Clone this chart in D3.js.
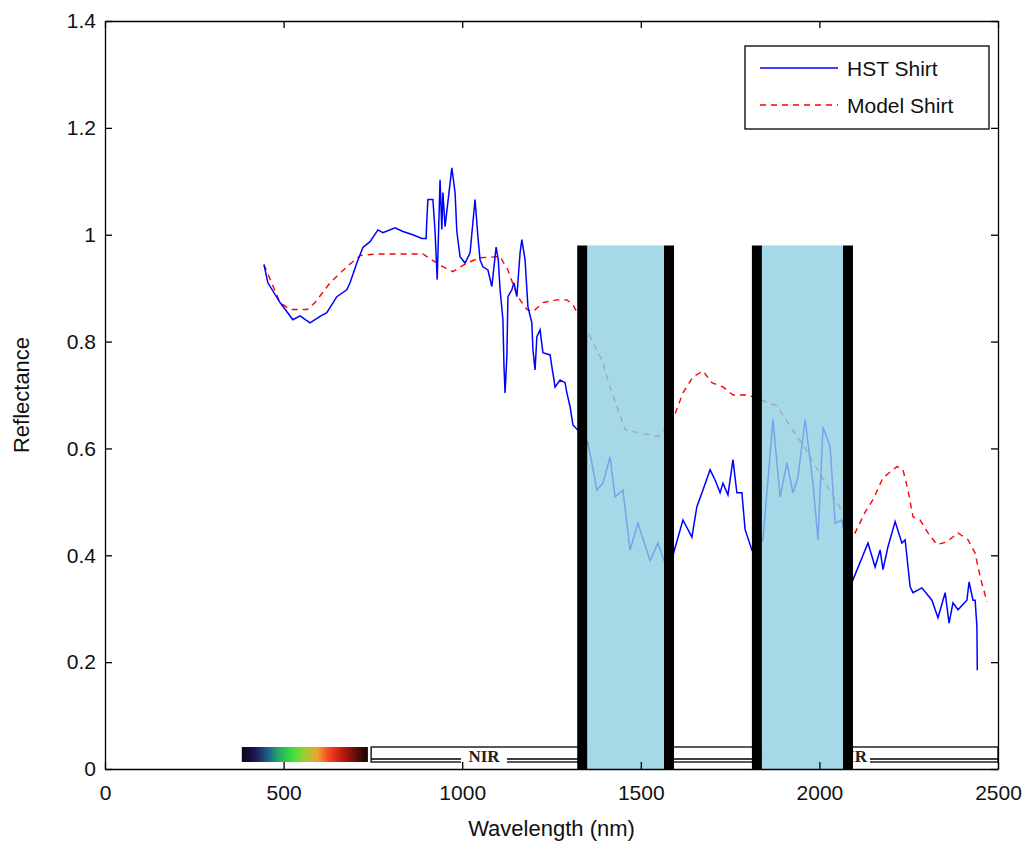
<!DOCTYPE html>
<html>
<head>
<meta charset="utf-8">
<script src="https://cdn.jsdelivr.net/npm/d3@7"></script>
<style>
  body { margin: 0; background: #fff; }
  text { font-family: "Liberation Sans", Arial, sans-serif; }
</style>
</head>
<body>
<svg id="chart" width="1027" height="846"></svg>
<script>
(function() {

    // ---- data ----
    var xTicks = [0, 500, 1000, 1500, 2000, 2500];
    var yTicks = [0, 0.2, 0.4, 0.6, 0.8, 1, 1.2, 1.4];
    var yTickLabels = ["0", "0.2", "0.4", "0.6", "0.8", "1", "1.2", "1.4"];

    var seriesNames = ["HST Shirt", "Model Shirt"];

    // HST Shirt (blue, solid)
    var hstWl = [445, 456, 490, 526, 546, 574, 602, 621, 649, 677, 686, 705, 722, 742, 764, 778, 812, 834, 862, 887,
        899, 901, 904, 918, 924, 930, 938, 943, 946, 952, 971, 980, 985, 994, 1008, 1022, 1036, 1044, 1050, 1058,
        1072, 1083, 1095, 1101, 1106, 1114, 1117, 1120, 1125, 1128, 1139, 1145, 1153, 1162, 1167, 1176, 1184, 1195, 1198, 1204,
        1209, 1218, 1226, 1246, 1251, 1260, 1274, 1288, 1293, 1302, 1310, 1330, 1352, 1363, 1377, 1394, 1414, 1428, 1450, 1470,
        1492, 1526, 1548, 1565, 1580, 1590, 1618, 1643, 1657, 1674, 1694, 1708, 1722, 1730, 1744, 1758, 1769, 1783, 1792, 1811,
        1842, 1870, 1890, 1909, 1926, 1940, 1960, 1982, 1996, 2010, 2030, 2044, 2063, 2080, 2094, 2136, 2156, 2170, 2178, 2192,
        2212, 2231, 2240, 2254, 2262, 2287, 2315, 2332, 2352, 2363, 2374, 2388, 2413, 2419, 2430, 2436, 2441, 2442];
    var hstRefl = [0.944, 0.91, 0.873, 0.841, 0.848, 0.835, 0.847, 0.854, 0.884, 0.897, 0.91, 0.947, 0.976, 0.987, 1.009, 1.004, 1.013, 1.006, 1.0, 0.993,
        0.993, 1.028, 1.066, 1.066, 1.006, 0.916, 1.103, 1.01, 1.079, 1.015, 1.125, 1.079, 1.006, 0.959, 0.947, 0.966, 1.066, 0.996, 0.953, 0.94,
        0.934, 0.903, 0.977, 0.953, 0.897, 0.841, 0.753, 0.704, 0.771, 0.884, 0.897, 0.91, 0.884, 0.966, 0.991, 0.953, 0.865, 0.835, 0.785, 0.747,
        0.809, 0.822, 0.779, 0.775, 0.753, 0.715, 0.728, 0.723, 0.704, 0.678, 0.644, 0.63, 0.61, 0.573, 0.522, 0.535, 0.584, 0.509, 0.522, 0.41,
        0.46, 0.39, 0.423, 0.39, 0.38, 0.4, 0.466, 0.434, 0.491, 0.522, 0.56, 0.541, 0.517, 0.535, 0.513, 0.579, 0.517, 0.517, 0.448, 0.41,
        0.429, 0.654, 0.509, 0.573, 0.517, 0.547, 0.654, 0.535, 0.429, 0.64, 0.603, 0.46, 0.466, 0.4, 0.354, 0.423, 0.378, 0.41, 0.373, 0.416,
        0.463, 0.423, 0.429, 0.341, 0.33, 0.339, 0.316, 0.283, 0.33, 0.273, 0.311, 0.298, 0.316, 0.35, 0.316, 0.316, 0.266, 0.185];

    // Model Shirt (red, dashed)
    var modelWl = [445, 490, 518, 566, 588, 630, 677, 714, 761, 890, 915, 946, 974, 1013, 1050, 1106, 1128, 1148, 1162, 1181,
        1198, 1226, 1265, 1293, 1310, 1358, 1391, 1414, 1456, 1548, 1590, 1618, 1646, 1674, 1699, 1730, 1758, 1800, 1880, 1960,
        2030, 2100, 2128, 2150, 2178, 2217, 2234, 2248, 2262, 2282, 2304, 2329, 2357, 2388, 2416, 2436, 2450, 2469];
    var modelRefl = [0.944, 0.873, 0.86, 0.86, 0.873, 0.91, 0.94, 0.961, 0.964, 0.964, 0.953, 0.94, 0.931, 0.947, 0.957, 0.959, 0.934, 0.897, 0.878, 0.86,
        0.856, 0.873, 0.878, 0.878, 0.869, 0.809, 0.766, 0.715, 0.635, 0.622, 0.654, 0.704, 0.734, 0.745, 0.723, 0.715, 0.7, 0.7, 0.68, 0.6,
        0.52, 0.442, 0.481, 0.504, 0.545, 0.566, 0.56, 0.522, 0.472, 0.466, 0.442, 0.42, 0.425, 0.442, 0.429, 0.404, 0.36, 0.313];

    // water absorption bands (nm) and the 0.98 top
    var bandStarts = [1350, 1839];
    var bandEnds = [1565, 2066];
    var bandTop = 0.98;

    // spectrum strip and region labels
    var visStart = 383, visEnd = 736, nirStart = 745;
    var spectrumColors = ["#0b0418", "#1c1450", "#1d5a88", "#24b060", "#3ce040", "#9ad030", "#f0a030", "#f04020", "#c01810", "#601008", "#180404"];

    var svg = d3.select("#chart");
    var margin = { left: 105, right: 29, top: 21, bottom: 77 };
    var W = 1027, H = 846;

    var x = d3.scaleLinear().domain([0, 2500]).range([margin.left, W - margin.right]);
    var y = d3.scaleLinear().domain([0, 1.4]).range([H - margin.bottom, margin.top]);

    var hst = hstWl.map(function(d, i) { return { wl: d, r: hstRefl[i] }; });
    var model = modelWl.map(function(d, i) { return { wl: d, r: modelRefl[i] }; });

    var defs = svg.append("defs");
    var grad = defs.append("linearGradient").attr("id", "spec");
    spectrumColors.forEach(function(c, i) {
        grad.append("stop").attr("offset", (i / (spectrumColors.length - 1) * 100) + "%").attr("stop-color", c);
    });
    // SWIR label is only visible to the right of the second band
    defs.append("clipPath").attr("id", "swirClip")
        .append("rect").attr("x", x(bandEnds[1]) + 10).attr("y", 700).attr("width", 200).attr("height", 100);

    // region box (NIR / SWIR) along the bottom
    var boxTop = 747, boxBottom = 762;
    svg.append("rect")
        .attr("x", x(nirStart)).attr("y", boxTop)
        .attr("width", x(2500) - x(nirStart)).attr("height", boxBottom - boxTop)
        .attr("fill", "#fff").attr("stroke", "#000").attr("stroke-width", 1.3);
    svg.append("line")
        .attr("x1", x(nirStart)).attr("x2", x(2500))
        .attr("y1", 759).attr("y2", 759)
        .attr("stroke", "#000").attr("stroke-width", 1.3);
    svg.append("rect").attr("x", 461).attr("y", 749).attr("width", 46).attr("height", 14).attr("fill", "#fff");
    svg.append("text").attr("x", 484).attr("y", 762).attr("text-anchor", "middle")
        .style("font-family", "'Liberation Serif', 'Times New Roman', serif").style("font-weight", "bold")
        .style("font-size", "17px").attr("fill", "#222").text("NIR");
    var swir = svg.append("g").attr("clip-path", "url(#swirClip)");
    swir.append("rect").attr("x", 820).attr("y", 749).attr("width", 50).attr("height", 14).attr("fill", "#fff");
    swir.append("text").attr("x", 867).attr("y", 762).attr("text-anchor", "end")
        .style("font-family", "'Liberation Serif', 'Times New Roman', serif").style("font-weight", "bold")
        .style("font-size", "17px").attr("fill", "#222").text("SWIR");

    // visible spectrum strip
    svg.append("rect")
        .attr("x", x(visStart)).attr("y", boxTop)
        .attr("width", x(visEnd) - x(visStart)).attr("height", boxBottom - boxTop)
        .attr("fill", "url(#spec)");

    // curves
    var line = d3.line().x(function(d) { return x(d.wl); }).y(function(d) { return y(d.r); });

    svg.append("path").datum(model)
        .attr("d", line).attr("fill", "none")
        .attr("stroke", "#ff0000").attr("stroke-width", 1.4)
        .attr("stroke-dasharray", "6,5");

    svg.append("path").datum(hst)
        .attr("d", line).attr("fill", "none")
        .attr("stroke", "#0000ff").attr("stroke-width", 1.5)
        .attr("stroke-linejoin", "miter");

    // absorption bands, drawn over the curves
    var stripTop = boxTop - 3;
    bandStarts.forEach(function(s, i) {
        var bx = x(s), bw = x(bandEnds[i]) - x(s);
        // white under the band's bottom so the region box does not show through
        svg.append("rect")
            .attr("x", bx).attr("y", stripTop)
            .attr("width", bw).attr("height", y(0) - stripTop)
            .attr("fill", "#fff");
        svg.append("rect")
            .attr("x", bx).attr("y", y(bandTop))
            .attr("width", bw).attr("height", y(0) - y(bandTop))
            .attr("fill", "#8fd0e2").attr("opacity", 0.8);
        [s, bandEnds[i]].forEach(function(e, k) {
            var cx = k === 0 ? x(e) - 5 : x(e) + 5;
            svg.append("line")
                .attr("x1", cx).attr("x2", cx)
                .attr("y1", y(bandTop)).attr("y2", y(0))
                .attr("stroke", "#000").attr("stroke-width", 10);
        });
    });

    // axes (MATLAB style box with inward ticks)
    var fontSize = "21px";
    var xAxis = svg.append("g")
        .attr("transform", "translate(0," + y(0) + ")")
        .call(d3.axisBottom(x).tickValues(xTicks).tickSizeInner(-7).tickSizeOuter(0).tickPadding(16).tickFormat(d3.format("d")));
    var yAxis = svg.append("g")
        .attr("transform", "translate(" + x(0) + ",0)")
        .call(d3.axisLeft(y).tickValues(yTicks).tickSizeInner(-7).tickSizeOuter(0).tickPadding(9)
            .tickFormat(function(d, i) { return yTickLabels[i]; }));
    var topAxis = svg.append("g")
        .attr("transform", "translate(0," + y(1.4) + ")")
        .call(d3.axisTop(x).tickValues(xTicks).tickSizeInner(-7).tickSizeOuter(0).tickFormat(""));
    var rightAxis = svg.append("g")
        .attr("transform", "translate(" + x(2500) + ",0)")
        .call(d3.axisRight(y).tickValues(yTicks).tickSizeInner(-7).tickSizeOuter(0).tickFormat(""));

    [xAxis, yAxis, topAxis, rightAxis].forEach(function(a) {
        a.selectAll("path, line").attr("stroke", "#000").attr("stroke-width", 1.3);
        a.selectAll("text").style("font-size", fontSize).style("font-family", "'Liberation Sans', Arial, sans-serif").attr("fill", "#111");
    });

    // axis titles
    svg.append("text")
        .attr("x", (x(0) + x(2500)) / 2).attr("y", 836)
        .attr("text-anchor", "middle").style("font-size", "22px").attr("fill", "#111")
        .text("Wavelength (nm)");
    svg.append("text")
        .attr("transform", "translate(29," + y(0.7) + ") rotate(-90)")
        .attr("text-anchor", "middle").style("font-size", "22px").attr("fill", "#111")
        .text("Reflectance");

    // legend
    var lg = svg.append("g");
    lg.append("rect").attr("x", 745).attr("y", 46).attr("width", 244).attr("height", 83)
        .attr("fill", "#fff").attr("stroke", "#000").attr("stroke-width", 1.3);
    var styles = [{ c: "#0000ff", dash: null }, { c: "#ff0000", dash: "6,5" }];
    seriesNames.forEach(function(name, i) {
        var ly = 68 + i * 37;
        lg.append("line").attr("x1", 760).attr("x2", 838).attr("y1", ly).attr("y2", ly)
            .attr("stroke", styles[i].c).attr("stroke-width", 1.4)
            .attr("stroke-dasharray", styles[i].dash);
        lg.append("text").attr("x", 847).attr("y", ly + 8)
            .style("font-size", "21px").attr("fill", "#111").text(name);
    });

})();
</script>
</body>
</html>
